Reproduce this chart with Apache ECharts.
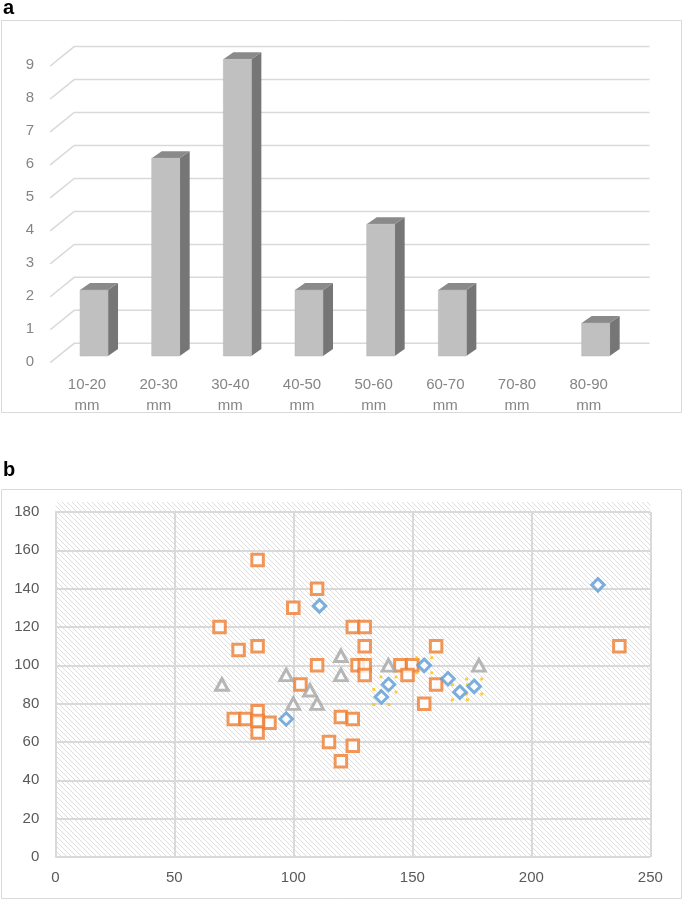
<!DOCTYPE html>
<html>
<head>
<meta charset="utf-8">
<script src="https://cdn.jsdelivr.net/npm/echarts@6/dist/echarts.min.js"></script>
<style>
  html, body { margin: 0; padding: 0; background: #fff; }
  #main { width: 685px; height: 901px; }
</style>
</head>
<body>
<div id="main"></div>
<script>
// panel a: size classes and counts
const sizeClasses = ['10-20\nmm', '20-30\nmm', '30-40\nmm', '40-50\nmm', '50-60\nmm', '60-70\nmm', '70-80\nmm', '80-90\nmm'];
const counts = [2, 6, 9, 2, 4, 2, 0, 1];
const countTicks = [0, 1, 2, 3, 4, 5, 6, 7, 8, 9];

// panel b: scatter series [x, y]
const orangeSquares = [
  [85, 155], [110, 140], [100, 130], [69, 120], [77, 108], [85, 110],
  [125, 120], [130, 120], [130, 110], [110, 100], [127, 100], [130, 100],
  [130, 95], [103, 90], [145, 100], [150, 100], [148, 95], [160, 110],
  [160, 90], [155, 80], [237, 110], [75, 72], [80, 72], [85, 76],
  [85, 65], [90, 70], [85, 71], [120, 73], [125, 72], [115, 60],
  [125, 58], [120, 50]
];
const grayTriangles = [
  [70, 90], [97, 95], [100, 80], [107, 87], [110, 80], [120, 105],
  [120, 95], [140, 100], [178, 100]
];
const blueDiamonds = [
  [111, 131], [97, 72], [137, 83.5], [140, 90], [155, 100], [165, 93],
  [170, 86], [176, 89], [228, 142]
];
const yellowMarks = [[137, 83.5], [140, 90], [155, 100], [170, 86], [176, 89]];

// diagonal hatch for the scatter plot area
const hatch = document.createElement('canvas');
hatch.width = 5; hatch.height = 5;
const hc = hatch.getContext('2d');
hc.fillStyle = '#ffffff';
hc.fillRect(0, 0, 5, 5);
hc.strokeStyle = '#dadada';
hc.lineWidth = 0.9;
hc.beginPath();
hc.moveTo(-1, -1); hc.lineTo(6, 6);
hc.moveTo(-1, 4); hc.lineTo(2, 7);
hc.moveTo(4, -1); hc.lineTo(7, 2);
hc.stroke();

let chart = echarts.init(document.getElementById('main'));

let option = {
  animation: false,
  textStyle: { fontFamily: 'Liberation Sans' },
  graphic: [
    { type: 'rect', z: -10, shape: { x: 1.5, y: 20.5, width: 680, height: 392 }, style: { fill: '#fff', stroke: '#d9d9d9', lineWidth: 1 } },
    { type: 'rect', z: -10, shape: { x: 1.5, y: 489.5, width: 680, height: 409 }, style: { fill: '#fff', stroke: '#d9d9d9', lineWidth: 1 } },
    { type: 'rect', z: -5, shape: { x: 55.5, y: 502, width: 595, height: 355 }, style: { fill: { image: hatch, repeat: 'repeat' } } },
    { type: 'text', left: 3, top: -2, style: { text: 'a', font: 'bold 20px Liberation Sans', fill: '#000' } },
    { type: 'text', left: 3, top: 460, style: { text: 'b', font: 'bold 20px Liberation Sans', fill: '#000' } }
  ],
  grid: [
    { left: 51.2, right: 60.5, top: 65, bottom: 539.3 },
    { left: 55.3, right: 34.7, top: 512, bottom: 44 }
  ],
  xAxis: [
    {
      gridIndex: 0,
      type: 'category',
      data: sizeClasses,
      axisLine: { show: false },
      axisTick: { show: false },
      axisLabel: { color: '#858585', fontSize: 15, lineHeight: 21, margin: 13 }
    },
    {
      gridIndex: 1,
      type: 'value',
      min: 0, max: 250, interval: 50,
      axisLine: { show: false },
      axisTick: { show: false },
      splitLine: { show: true, lineStyle: { color: '#d9d9d9', width: 2 } },
      axisLabel: { color: '#595959', fontSize: 15, margin: 13 }
    }
  ],
  yAxis: [
    {
      gridIndex: 0,
      type: 'value',
      min: 0, max: 9, interval: 1,
      axisLine: { show: false },
      axisTick: { show: false },
      splitLine: { show: false },
      axisLabel: { color: '#858585', fontSize: 15, margin: 17 }
    },
    {
      gridIndex: 1,
      type: 'value',
      min: 0, max: 180, interval: 20,
      axisLine: { show: false },
      axisTick: { show: false },
      splitLine: { show: true, lineStyle: { color: '#d9d9d9', width: 2 } },
      axisLabel: { color: '#595959', fontSize: 15, margin: 16 }
    }
  ],
  series: [
    {
      // back wall gridlines with the floor diagonal
      type: 'custom',
      xAxisIndex: 0, yAxisIndex: 0,
      z: 1,
      silent: true,
      clip: false,
      data: countTicks.map(v => [0, v]),
      renderItem: function (params, api) {
        let cs = params.coordSys;
        let y = api.coord([0, api.value(1)])[1];
        return {
          type: 'polyline',
          shape: { points: [[cs.x - 1, y + 1], [cs.x + 23, y - 18.4], [cs.x + cs.width + 25, y - 18.4]] },
          style: { stroke: '#d9d9d9', lineWidth: 1.5, fill: null }
        };
      }
    },
    {
      // 3d-looking bars
      type: 'custom',
      xAxisIndex: 0, yAxisIndex: 0,
      z: 3,
      clip: false,
      data: counts.map((v, i) => [i, v]),
      renderItem: function (params, api) {
        let i = api.value(0), v = api.value(1);
        if (!v) return;
        let b = api.coord([i, 0]), t = api.coord([i, v]);
        let w = 28, dx = 10, dy = -7;
        let x0 = b[0] + 7 - w / 2, x1 = x0 + w;
        let yb = b[1] - 5.7, yt = t[1] - 5.7;
        return {
          type: 'group',
          children: [
            { type: 'polygon', shape: { points: [[x1, yb], [x1 + dx, yb + dy], [x1 + dx, yt + dy], [x1, yt]] }, style: { fill: '#767676' } },
            { type: 'polygon', shape: { points: [[x0, yt], [x0 + dx, yt + dy], [x1 + dx, yt + dy], [x1, yt]] }, style: { fill: '#8a8a8a' } },
            { type: 'rect', shape: { x: x0, y: yt, width: w, height: yb - yt }, style: { fill: '#c0c0c0', stroke: '#b4b4b4', lineWidth: 0.5 } }
          ]
        };
      }
    },
    {
      type: 'scatter',
      xAxisIndex: 1, yAxisIndex: 1,
      data: orangeSquares,
      symbol: 'rect',
      symbolSize: 11.5,
      itemStyle: { color: '#fff', borderColor: '#ed7d31', borderWidth: 3 },
      z: 3
    },
    {
      type: 'scatter',
      xAxisIndex: 1, yAxisIndex: 1,
      data: grayTriangles,
      symbol: 'triangle',
      symbolSize: [12.5, 11.5],
      itemStyle: { color: '#fff', borderColor: '#a5a5a5', borderWidth: 3 },
      z: 4
    },
    {
      type: 'scatter',
      xAxisIndex: 1, yAxisIndex: 1,
      data: yellowMarks,
      symbol: 'rect',
      symbolSize: 15,
      itemStyle: { color: 'transparent', borderColor: '#ffc000', borderWidth: 3, borderType: [2.5, 12.5], borderDashOffset: 1.25 },
      z: 5
    },
    {
      type: 'scatter',
      xAxisIndex: 1, yAxisIndex: 1,
      data: blueDiamonds,
      symbol: 'diamond',
      symbolSize: 12.5,
      itemStyle: { color: '#fff', borderColor: '#5b9bd5', borderWidth: 3 },
      z: 6
    }
  ]
};

chart.setOption(option);
</script>
</body>
</html>
